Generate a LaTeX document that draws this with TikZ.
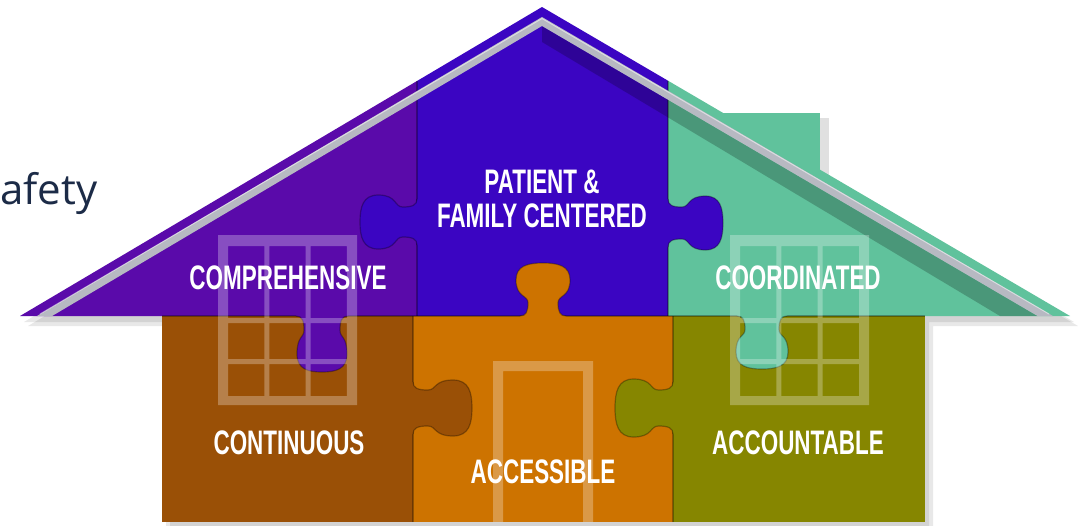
\documentclass[tikz,border=0pt]{standalone}
\usepackage{fontspec}
\usepackage{tikz}
\usetikzlibrary{positioning}
\newfontfamily\piecefont[FakeStretch=0.66]{Liberation Sans}
\newfontfamily\safetyfont{Open Sans}
\definecolor{ppurple}{HTML}{5A0AAA}
\definecolor{pblue}{HTML}{3B05C2}
\definecolor{pteal}{HTML}{60C29C}
\definecolor{pbrown}{HTML}{9A5006}
\definecolor{porange}{HTML}{CD7300}
\definecolor{polive}{HTML}{868600}
\definecolor{navy}{HTML}{1C2B47}
\definecolor{trim}{HTML}{B7B9C2}
\tikzstyle{seam} = [draw=black, draw opacity=0.3, line width=1.2pt]
\tikzstyle{pane} = [fill=white, fill opacity=0.28, even odd rule]
\tikzstyle{piecetext} = [text=white, inner sep=0pt, font=\piecefont\bfseries\fontsize{34}{34}\selectfont]
\tikzstyle{houseshadow} = [fill=black, fill opacity=0.09]

% knob: x, y, rotation, colour, neck, bulb, depth
\newcommand{\puzknob}[7]{%
  \begin{scope}[shift={(#1,#2)}, rotate=#3]
    \fill[#4] (-#5-8,-4) -- (-#5-8,0)
      .. controls (-#5-2,0) and (-#5,0.08*#7) .. (-#5,0.25*#7)
      .. controls (-#5,0.4*#7) and (-#6,0.35*#7) .. (-#6,0.68*#7)
      .. controls (-#6,0.95*#7) and (-0.55*#6,#7) .. (0,#7)
      .. controls (0.55*#6,#7) and (#6,0.95*#7) .. (#6,0.68*#7)
      .. controls (#6,0.35*#7) and (#5,0.4*#7) .. (#5,0.25*#7)
      .. controls (#5,0.08*#7) and (#5+2,0) .. (#5+8,0)
      -- (#5+8,-4) -- cycle;
    \draw[seam] (-#5-8,0)
      .. controls (-#5-2,0) and (-#5,0.08*#7) .. (-#5,0.25*#7)
      .. controls (-#5,0.4*#7) and (-#6,0.35*#7) .. (-#6,0.68*#7)
      .. controls (-#6,0.95*#7) and (-0.55*#6,#7) .. (0,#7)
      .. controls (0.55*#6,#7) and (#6,0.95*#7) .. (#6,0.68*#7)
      .. controls (#6,0.35*#7) and (#5,0.4*#7) .. (#5,0.25*#7)
      .. controls (#5,0.08*#7) and (#5+2,0) .. (#5+8,0);
  \end{scope}}

\begin{document}
\begin{tikzpicture}[x=1pt, y=-1pt]
  \useasboundingbox (0,0) rectangle (1078,525);
  \fill[white] (0,0) rectangle (1078,525);

  % shadow of the house
  \foreach \s in {4,8} {
    \fill[houseshadow, shift={(\s,\s+2)}] (20,316) -- (542,7) -- (1070,316) -- (925,316)
      -- (925,522) -- (162,522) -- (162,316) -- cycle;
  }

  % chimney
  \fill[black, fill opacity=0.12] (820,118) rectangle (829,175);
  \fill[pteal] (670,113) rectangle (820,200);

  % roof pieces
  \fill[ppurple] (20,316) -- (417,81) -- (417,316) -- cycle;
  \fill[pblue] (417,81) -- (542,7) -- (668,80.7) -- (668,316) -- (417,316) -- cycle;
  \fill[pteal] (668,80.7) -- (1070,316) -- (668,316) -- cycle;

  % wall pieces
  \fill[pbrown] (162,316) rectangle (413,522);
  \fill[porange] (413,316) rectangle (673,522);
  \fill[polive] (673,316) rectangle (925,522);

  % seams
  \draw[seam] (417,81) -- (417,316);
  \draw[seam] (668,80.7) -- (668,316);
  \draw[seam] (162,316) -- (925,316);
  \draw[seam] (413,316) -- (413,522);
  \draw[seam] (673,316) -- (673,522);

  % knobs
  \puzknob{417}{222}{-90}{pblue}{15}{27}{57}
  \puzknob{668}{223}{90}{pblue}{16}{27}{55}
  \puzknob{543}{316}{180}{porange}{15}{27}{53}
  \puzknob{322}{316}{0}{ppurple}{18}{25}{56}
  \puzknob{762}{316}{0}{pteal}{17}{26}{53}
  \puzknob{413}{408}{90}{pbrown}{18}{28}{59}
  \puzknob{673}{408}{-90}{polive}{18}{29}{58}

  % roof trim
  \fill[black, fill opacity=0.22] (542,26) -- (1037.6,316) -- (1000,316) -- (542,42) -- cycle;
  \fill[trim] (36.9,316) -- (542,17) -- (1052.9,316) -- (1037.6,316) -- (542,26) -- (52.1,316) -- cycle;
  \draw[white, opacity=0.5, line width=1pt] (40,314) -- (542,18.5) -- (1049,314);

  % windows and door
  \fill[pane] (218,235) rectangle (357,405)
    foreach \c in {0,1,2} {
      (228+41.33*\c,246) rectangle (264.33+41.33*\c,318)
      (228+41.33*\c,323) rectangle (264.33+41.33*\c,359)
      (228+41.33*\c,364) rectangle (264.33+41.33*\c,396)
    };
  \fill[pane] (730,235) rectangle (869,405)
    foreach \c in {0,1,2} {
      (740+41.33*\c,246) rectangle (776.33+41.33*\c,318)
      (740+41.33*\c,323) rectangle (776.33+41.33*\c,359)
      (740+41.33*\c,364) rectangle (776.33+41.33*\c,396)
    };
  \fill[pane] (493,361) rectangle (593,522) (503,371) rectangle (583,522);

  % texts
  \node (safety) [anchor=base west, inner sep=0pt, text=navy, font=\safetyfont\fontsize{42}{50}\selectfont] at (0,204) {afety};
  \node (patient) [piecetext, align=center] at (542,199) {PATIENT \&\\FAMILY CENTERED};
  \node (comprehensive) [piecetext, anchor=base] at (288,289) {COMPREHENSIVE};
  \node (coordinated) [piecetext, anchor=base] at (798,289) {COORDINATED};
  \node (continuous) [piecetext, anchor=base] at (289,454) {CONTINUOUS};
  \node (accessible) [piecetext, anchor=base] at (543,483) {ACCESSIBLE};
  \node (accountable) [piecetext, anchor=base] at (798,454) {ACCOUNTABLE};
\end{tikzpicture}
\end{document}
